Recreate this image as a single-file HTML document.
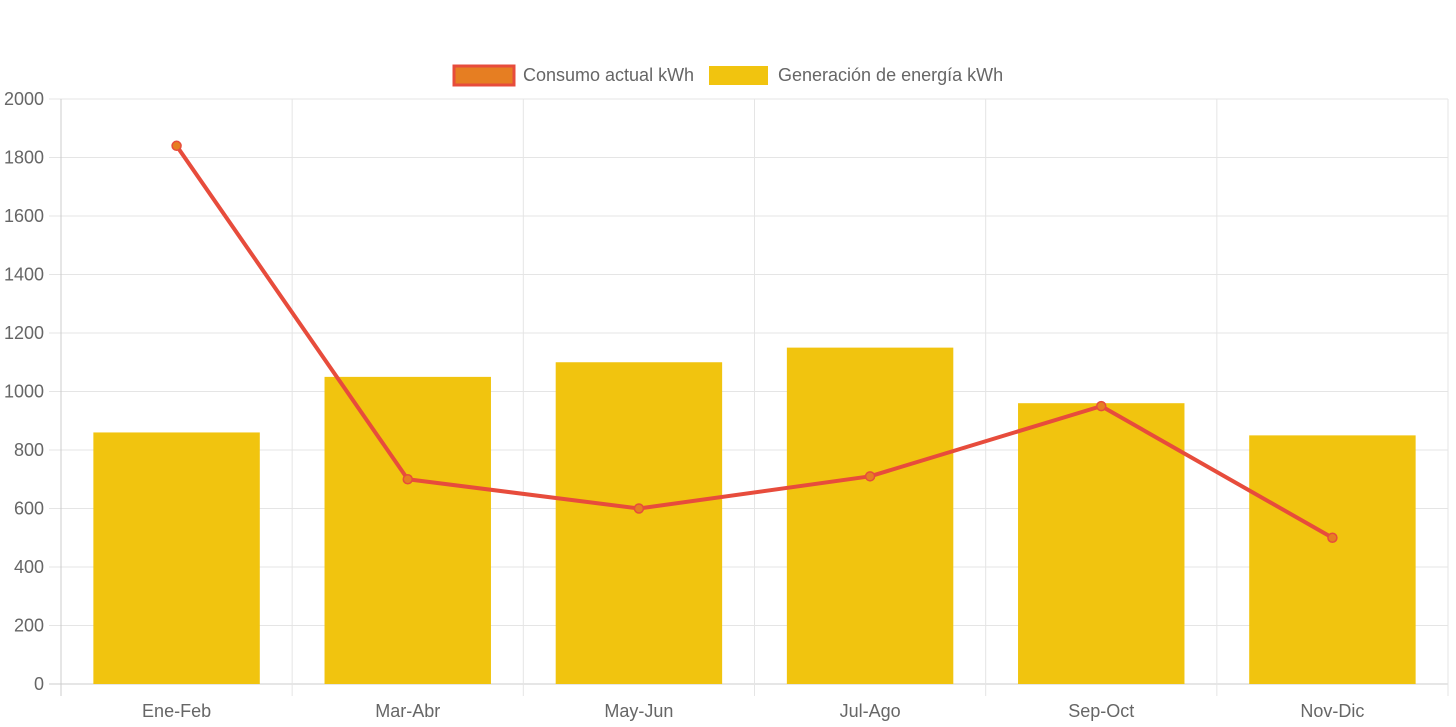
<!DOCTYPE html>
<html><head><meta charset="utf-8"><style>
html,body{margin:0;padding:0;background:#fff;}
svg{display:block;font-family:"Liberation Sans",Arial,sans-serif;}
</style></head><body>
<svg id="chart" width="1456" height="727" viewBox="0 0 1456 727" xmlns="http://www.w3.org/2000/svg">
  <g>
    <g>
      <rect x="454" y="66" width="60" height="19" fill="#e67e22" stroke="#e74c3c" stroke-width="3"/>
      <text x="523" y="81" font-size="18" fill="#666">Consumo actual kWh</text>
    </g>
    <g>
      <rect x="709" y="66" width="59" height="19" fill="#f1c40f"/>
      <text x="778" y="81" font-size="18" fill="#666">Generación de energía kWh</text>
    </g>
  </g>
  <g id="grid"></g>
  <g id="bars"></g>
  <g id="line"></g>
  <g id="labels"></g>
</svg>
<script>
const categories = ["Ene-Feb","Mar-Abr","May-Jun","Jul-Ago","Sep-Oct","Nov-Dic"];
const generacion = [860, 1050, 1100, 1150, 960, 850];
const consumo = [1840, 700, 600, 710, 950, 500];
const yTicks = [0,200,400,600,800,1000,1200,1400,1600,1800,2000];

const NS = "http://www.w3.org/2000/svg";
const L = 61, R = 1448, T = 99, B = 684, YMAX = 2000;
const catW = (R - L) / categories.length;
function x(i){ return L + catW * (i + 0.5); }
function y(v){ return B - (v / YMAX) * (B - T); }
function mk(tag, attrs, parent){ const e = document.createElementNS(NS, tag); for (const k in attrs) e.setAttribute(k, attrs[k]); parent.appendChild(e); return e; }

const grid = document.getElementById('grid');
const labels = document.getElementById('labels');
yTicks.forEach(function(t){
  const gl = mk('line', {x1:49, x2:R, y1:y(t), y2:y(t), stroke: t===0 ? '#ccc' : '#e5e5e5', 'stroke-width':1}, grid);
  
  
  const tx = mk('text', {x:44, y:y(t)+6, 'text-anchor':'end', 'font-size':18, fill:'#666'}, labels);
  tx.textContent = t;
  
  
});
for (let i = 0; i <= categories.length; i++) {
  const gx = L + catW * i;
  const vl = mk('line', {x1:gx, x2:gx, y1:T, y2:696, stroke: i===0 ? '#ccc' : '#e5e5e5', 'stroke-width':1}, grid);
  
  
}
categories.forEach(function(c, i){
  const tx = mk('text', {x:x(i), y:717, 'text-anchor':'middle', 'font-size':18, fill:'#666'}, labels);
  tx.textContent = c;
  
  
});

const bars = document.getElementById('bars');
const bw = catW * 0.72;
generacion.forEach(function(v, i){
  const r = mk('rect', {x:x(i)-bw/2, y:y(v), width:bw, height:B-y(v), fill:'#f1c40f'}, bars);
  
  
});

const line = document.getElementById('line');
const pts = consumo.map(function(v, i){ return x(i) + ',' + y(v); }).join(' ');
const pl = mk('polyline', {points:pts, fill:'none', stroke:'#e74c3c', 'stroke-width':4, 'stroke-linejoin':'round'}, line);


consumo.forEach(function(v, i){
  const c = mk('circle', {cx:x(i), cy:y(v), r:4.5, fill:'#e67e22', stroke:'#e74c3c', 'stroke-width':1.5}, line);
  
  
});
</script>
</body></html>
